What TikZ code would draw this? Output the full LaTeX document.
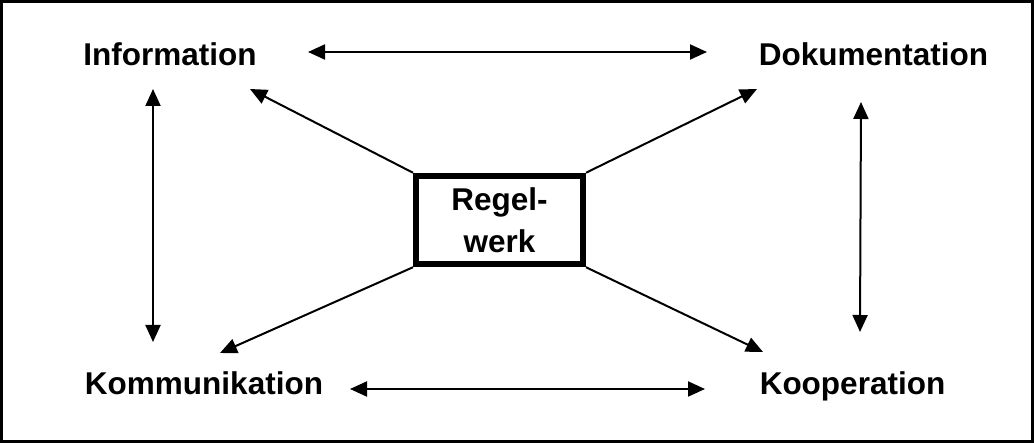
\documentclass[tikz,border=0pt]{standalone}
\usepackage{fontspec}
\setmainfont{Liberation Sans}
\usetikzlibrary{arrows.meta}
\tikzset{
x=0.5pt, y=-0.5pt, % one unit is one pixel of the sketch
>={Triangle[length=8.5pt, width=7.5pt]}, % filled arrow heads
term/.style={inner sep=0pt, text height=11.3pt, text depth=0pt, font=\bfseries\fontsize{15.75}{21}\selectfont}, % the four corner words
core/.style={draw, line width=3pt, minimum width=83.5pt, minimum height=44.25pt, align=center, font=\bfseries\fontsize{15.75}{21}\selectfont}, % the box in the middle
link/.style={line width=1pt}, % sets the width of all connectors
}

\begin{document}
\begin{tikzpicture}
        \useasboundingbox (0,0) rectangle (1034,443);
        \draw[line width=1.5pt] (1.5,1.5) rectangle (1032,441.5);

        \node[term] (info) at (170,54.5) {Information};
        \node[term] (doku) at (873.5,54) {Dokumentation};
        \node[term] (komm) at (204,383.5) {Kommunikation};
        \node[term] (koop) at (852.5,383) {Kooperation};
        \node[core] (regel) at (499.5,220) {Regel-\\werk};

        \draw[link, <->] ([shift={(138,-2.5)}]info.center) -- ([shift={(-166.5,-2)}]doku.center);
        \draw[link, <->] ([shift={(146,5.5)}]komm.center) -- ([shift={(-147.5,6)}]koop.center);
        \draw[link, <->] ([shift={(-17,34.5)}]info.center) -- ([shift={(-51,-41.5)}]komm.center);
        \draw[link, <->] ([shift={(-12.5,48)}]doku.center) -- ([shift={(7.5,-51)}]koop.center);

        \draw[link, ->] (regel.north west) -- ([shift={(80,34.5)}]info.center);
        \draw[link, ->] (regel.north east) -- ([shift={(-116.5,35)}]doku.center);
        \draw[link, ->] (regel.south west) -- ([shift={(16,-30.5)}]komm.center);
        \draw[link, ->] (regel.south east) -- ([shift={(-89.5,-31)}]koop.center);
    \end{tikzpicture}
\end{document}
